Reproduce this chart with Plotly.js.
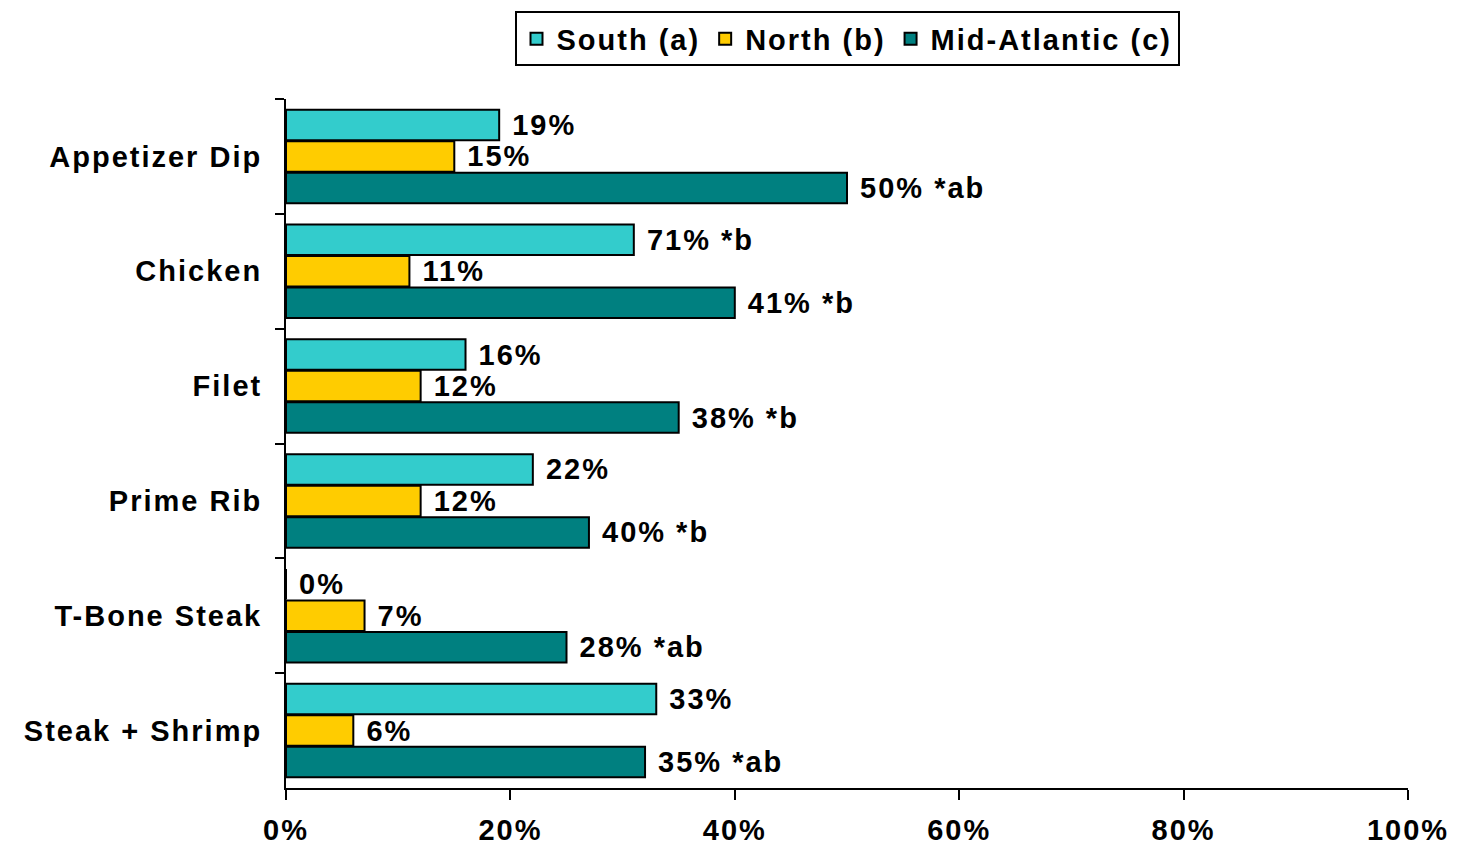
<!DOCTYPE html>
<html>
<head>
<meta charset="utf-8">
<script src="https://cdn.plot.ly/plotly-3.0.1.min.js"></script>
<style>html,body{margin:0;padding:0;background:#fff;}#chart{width:1460px;height:847px;}text{letter-spacing:2px;}</style>
</head>
<body>
<div id="chart"></div>
<script>
const categories = ["Appetizer Dip", "Chicken", "Filet", "Prime Rib", "T-Bone Steak", "Steak + Shrimp"];
const seriesNames = ["South (a)", "North (b)", "Mid-Atlantic (c)"];
const southValues = [19, 31, 16, 22, 0, 33];
const northValues = [15, 11, 12, 12, 7, 6];
const midValues = [50, 40, 35, 27, 25, 32];
const southLabels = ["19%", "71% *b", "16%", "22%", "0%", "33%"];
const northLabels = ["15%", "11%", "12%", "12%", "7%", "6%"];
const midLabels = ["50% *ab", "41% *b", "38% *b", "40% *b", "28% *ab", "35% *ab"];
const xTicks = [0, 20, 40, 60, 80, 100];
const colors = ["#33CCCC", "#FFCC00", "#008080"];

const FONT = "'Liberation Sans', Arial, sans-serif";
const fontBold = (size) => ({family: FONT, size: size, color: "#000", weight: 700});

function mk(name, vals, labels, color) {
  return {
    type: "bar", orientation: "h", name: name,
    x: vals, y: categories, text: labels,
    texttemplate: " %{text}", textposition: "outside",
    constraintext: "none", cliponaxis: false,
    textfont: fontBold(29),
    marker: {color: color, line: {color: "#000", width: 2}},
    hoverinfo: "skip"
  };
}

const data = [
  mk(seriesNames[0], southValues, southLabels, colors[0]),
  mk(seriesNames[1], northValues, northLabels, colors[1]),
  mk(seriesNames[2], midValues, midLabels, colors[2])
];

const layout = {
  width: 1460, height: 847,
  margin: {l: 286, r: 52, t: 95, b: 59, pad: 0},
  paper_bgcolor: "#fff", plot_bgcolor: "#fff",
  barmode: "group", bargap: 0.177, bargroupgap: 0.03,
  showlegend: true,
  legend: {
    orientation: "h", x: 0.5, xanchor: "center", y: 1.127, yanchor: "top",
    bordercolor: "#000", borderwidth: 2, bgcolor: "#fff",
    font: fontBold(29), traceorder: "normal", itemwidth: 30
  },
  xaxis: {
    range: [0, 100], tickvals: xTicks, ticktext: xTicks.map(v => v + "%"),
    showgrid: false, zeroline: false, showline: true, linecolor: "#000", linewidth: 2,
    ticks: "outside", ticklen: 10, tickwidth: 2, tickcolor: "#000",
    tickfont: fontBold(29), ticklabelstandoff: 5, fixedrange: true
  },
  yaxis: {
    type: "category", categoryorder: "array", categoryarray: categories,
    range: [5.5, -0.5], tickson: "boundaries",
    showgrid: false, zeroline: false, showline: true, linecolor: "#000", linewidth: 2,
    ticks: "outside", ticklen: 9, tickwidth: 2, tickcolor: "#000",
    tickfont: fontBold(29), ticklabelstandoff: 16, fixedrange: true
  }
};

Plotly.newPlot("chart", data, layout, {displayModeBar: false, staticPlot: true});
</script>
</body>
</html>
